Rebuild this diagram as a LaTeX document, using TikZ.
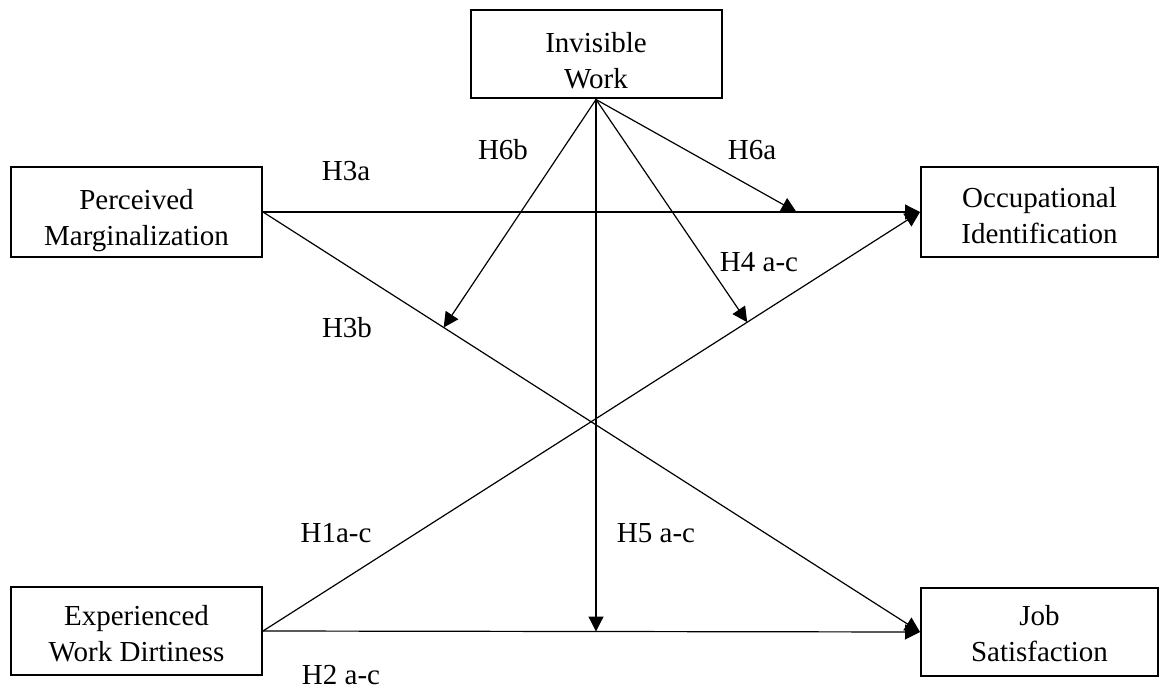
\documentclass[tikz,border=0pt]{standalone}
\usepackage{fontspec}
\setmainfont{Liberation Serif}
\usetikzlibrary{arrows.meta,calc}
\newcommand\topstrut[1]{\rule{0pt}{#1pt}}
\begin{document}
\begin{tikzpicture}[x=1pt,y=-1pt,
  box/.style={draw,line width=2pt,minimum width=251pt,minimum height=88pt,align=center,inner sep=0pt,font=\fontsize{29}{36}\selectfont},
  lbl/.style={font=\fontsize{29}{36}\selectfont,inner sep=0pt},
  conn/.style={line width=1.2pt,-{Triangle[length=15pt,width=15pt]}}]
\useasboundingbox (0,0) rectangle (1160,690);
\node[box] (iw) at (596,54.5) {\topstrut{32}Invisible\\Work};
\node[box,minimum height=90pt] (pm) at (136.5,212) {\topstrut{38}Perceived\\Marginalization};
\node[box,minimum height=90pt,minimum width=237pt] (oi) at (1039.5,212) {\topstrut{28}Occupational\\Identification};
\node[box] (ew) at (136.5,631) {\topstrut{26}Experienced\\Work Dirtiness};
\node[box,minimum width=237pt] (js) at (1039.5,632) {\topstrut{24}Job\\Satisfaction};
\draw[conn] (pm.east) -- (oi.west);
\draw[conn] (pm.east) -- (js.west);
\draw[conn] (ew.east) -- (oi.west);
\draw[conn] (ew.east) -- (js.west);
\coordinate (t6a) at ($(pm.east)!0.812!(oi.west)$);
\coordinate (t4) at ($(ew.east)!0.737!(oi.west)$);
\coordinate (t6b) at ($(pm.east)!0.275!(js.west)$);
\coordinate (t5) at ($(ew.east)!0.507!(js.west)$);
\draw[conn] (iw.south) -- (t6a);
\draw[conn] (iw.south) -- (t4);
\draw[conn] (iw.south) -- (t6b);
\draw[conn] (iw.south) -- (iw.south |- t5);
\node[lbl] (l3a) at (346,171) {H3a};
\node[lbl] (l6b) at (503,150) {H6b};
\node[lbl] (l6a) at (752,150) {H6a};
\node[lbl] (l4) at (759,262) {H4 a-c};
\node[lbl] (l3b) at (347,328) {H3b};
\node[lbl] (l1) at (336,533) {H1a-c};
\node[lbl] (l5) at (656,533) {H5 a-c};
\node[lbl] (l2) at (341,675) {H2 a-c};
\end{tikzpicture}
\end{document}
